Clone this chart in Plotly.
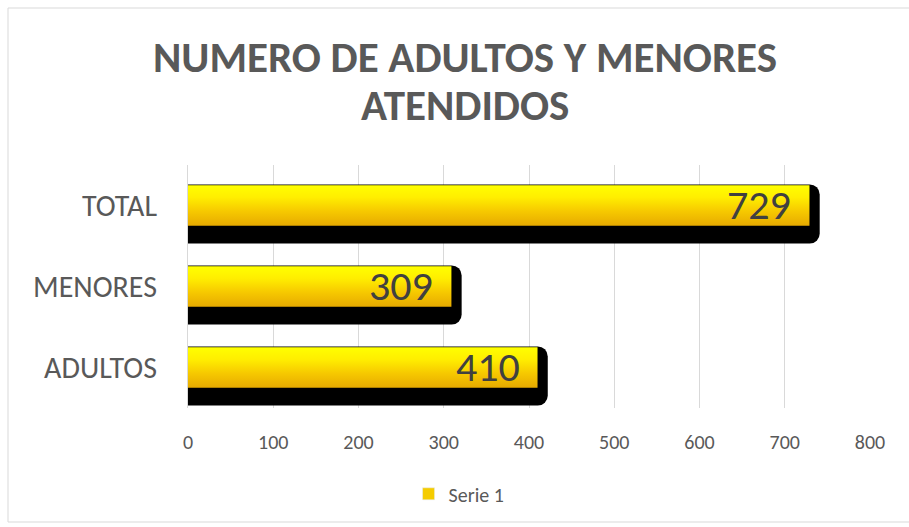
import plotly.graph_objects as go

categorias = ["ADULTOS", "MENORES", "TOTAL"]
valores = [410, 309, 729]
ticks_x = [0, 100, 200, 300, 400, 500, 600, 700, 800]
titulo = ["NUMERO DE ADULTOS Y MENORES", "ATENDIDOS"]

W, H = 909, 527
alto = 0.5
fuente = "Carlito, Calibri, Lato, sans-serif"
posiciones = list(range(len(categorias)))

fig = go.Figure()

# sombra negra desplazada
fig.add_trace(go.Bar(
    y=posiciones, x=[v + 12 for v in valores], orientation="h",
    width=alto + 0.23, offset=-alto / 2 - 0.22,
    marker=dict(color="black", cornerradius=10, line=dict(width=0)),
    showlegend=False, hoverinfo="skip",
))

# barras con degradado vertical (amarillo arriba, dorado abajo)
for i, v in zip(posiciones, valores):
    y0, y1 = i - alto / 2, i + alto / 2
    fig.add_trace(go.Scatter(
        x=[0, v, v, 0, 0], y=[y0, y0, y1, y1, y0],
        mode="lines", fill="toself", line=dict(width=0),
        fillgradient=dict(type="vertical", colorscale=[
            [0, "#E6AA00"], [0.35, "#F6C800"], [0.7, "#FFEE00"], [1, "#FFFF00"]]),
        showlegend=False, hoverinfo="skip",
    ))

# entrada de leyenda
fig.add_trace(go.Bar(
    y=[None], x=[None], orientation="h", name="Serie 1",
    marker=dict(color="#F5CC00"), showlegend=True,
))

# etiquetas de valor
for i, v in zip(posiciones, valores):
    fig.add_annotation(
        x=v, y=i, xref="x", yref="y", text=str(v), showarrow=False,
        xanchor="right", yanchor="middle", xshift=-16, yshift=1,
        font=dict(size=42, color="#404040", family=fuente),
    )

# título en dos líneas
for linea, yp in zip(titulo, [1.444, 1.243]):
    fig.add_annotation(
        x=0.406, y=yp, xref="paper", yref="paper", text=f"<b>{linea}</b>",
        showarrow=False, xanchor="center", yanchor="middle",
        font=dict(size=43, color="#595959", family=fuente),
    )

fig.update_layout(
    width=W, height=H,
    paper_bgcolor="white", plot_bgcolor="white",
    margin=dict(l=188, r=39, t=165, b=119),
    xaxis=dict(
        range=[0, 800], tickvals=ticks_x, showgrid=True,
        gridcolor="#D9D9D9", gridwidth=1, zeroline=False,
        ticks="outside", ticklen=16, tickcolor="rgba(0,0,0,0)",
        tickfont=dict(size=20, color="#595959", family=fuente),
    ),
    yaxis=dict(
        tickvals=posiciones, ticktext=categorias,
        range=[-0.5, 2.5], showgrid=False, zeroline=False,
        showline=True, linecolor="#D9D9D9",
        ticks="outside", ticklen=24, tickcolor="rgba(0,0,0,0)",
        tickfont=dict(size=30, color="#595959", family=fuente),
    ),
    legend=dict(
        orientation="h", xref="container", x=0.505, xanchor="center",
        yref="container", y=0.063, yanchor="middle",
        font=dict(size=20, color="#595959", family=fuente),
    ),
    shapes=[dict(
        type="rect", xref="paper", yref="paper",
        x0=(8 - 188) / 682, x1=(915 - 188) / 682,
        y0=(408 - 522) / 243, y1=(408 - 8) / 243,
        line=dict(color="#D9D9D9", width=1), fillcolor="rgba(0,0,0,0)",
        layer="below",
    )],
)

fig.write_html("out.html", config={"displayModeBar": False},
               post_script="document.body.style.margin='0';")
